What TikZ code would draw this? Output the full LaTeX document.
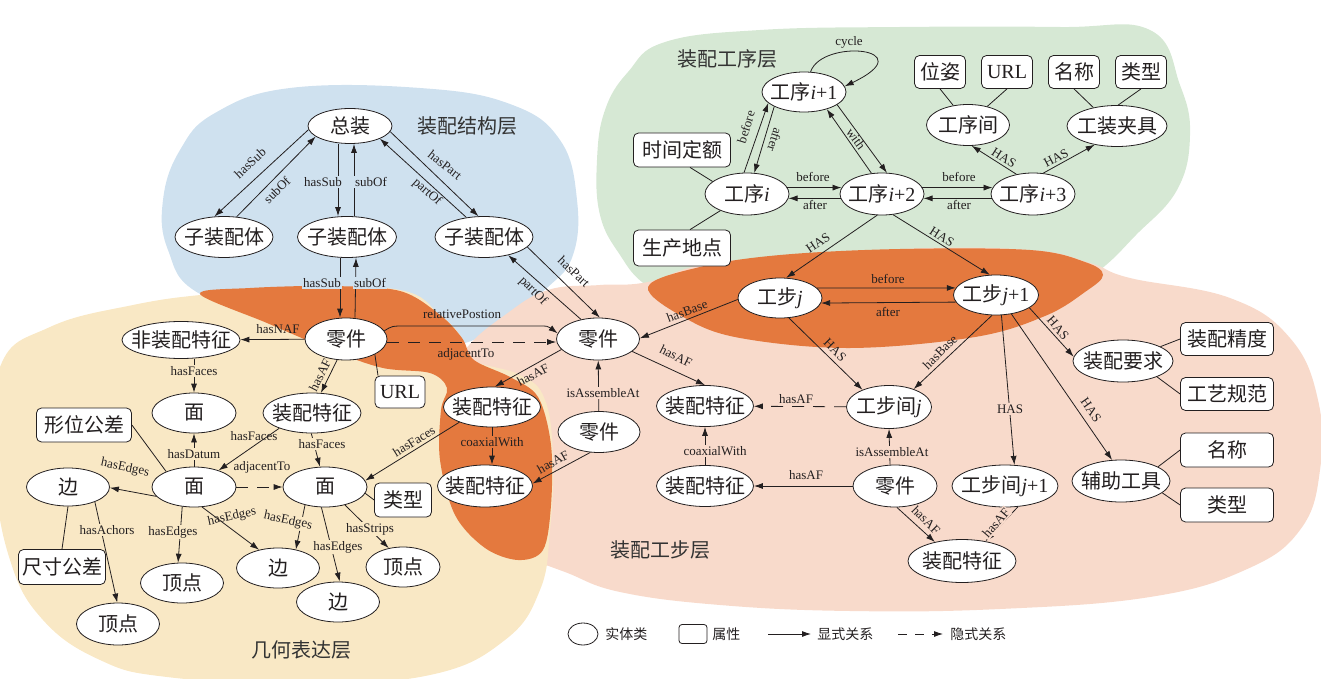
\documentclass[tikz,border=0pt]{standalone}
\usepackage{fontspec}
\setmainfont{Liberation Serif}
\newfontfamily\cjk{Noto Sans CJK SC}
\usetikzlibrary{shapes.geometric,arrows.meta}
\definecolor{bluebg}{RGB}{207,225,239}
\definecolor{greenbg}{RGB}{214,232,212}
\definecolor{peachbg}{RGB}{248,218,203}
\definecolor{yellowbg}{RGB}{249,232,197}
\definecolor{orangebg}{RGB}{228,121,62}
\definecolor{lc}{RGB}{35,31,32}
\newcommand\zc[1]{\makebox[0pt]{#1}}
\newcommand\nf{\cjk\fontsize{20}{24}\selectfont}
\newcommand\lgf{\cjk\fontsize{14}{16}\selectfont}
\newcommand\lf{\fontsize{13}{15}\selectfont}
\newcommand\rmi[1]{{\rmfamily\itshape #1}}
\newcommand\rmn[1]{{\rmfamily #1}}
\tikzset{
 ent/.style={ellipse, draw=lc, fill=white, inner sep=0pt, minimum width=#1, minimum height=41pt, font=\nf, text=lc},
 ent/.default=84pt,
 att/.style={rectangle, rounded corners=5pt, draw=lc, fill=white, inner sep=0pt, minimum width=#1, minimum height=34pt, font=\nf, text=lc},
 att/.default=51pt,
 lb/.style={font=\lf, text=lc, inner sep=1.2pt},
 lbf/.style={lb, fill=#1},
 con/.style={draw=lc, ->},
 dsh/.style={draw=lc, ->, dash pattern=on 12pt off 9pt},
 ln/.style={draw=lc},
 ttl/.style={font=\nf, text=black!80},
 lgt/.style={font=\lgf, text=lc, anchor=west, inner sep=0pt},
}
\begin{document}
\begin{tikzpicture}[x=1pt, y=-1pt, line width=0.8pt, >={Latex[length=9pt,width=6pt]}]
\useasboundingbox (0,0) rectangle (1321,679);
% ---------- layers ----------
\fill[bluebg] plot[smooth cycle, tension=0.7] coordinates {(290,88) (420,88) (510,104) (560,140) (577,200) (573,255) (548,287) (505,318) (465,343) (400,348) (300,325) (200,294) (168,250) (163,200) (180,150) (215,113)};
\fill[greenbg] plot[smooth cycle, tension=0.7] coordinates {(665,42) (760,30) (900,27) (1060,27) (1150,30) (1180,85) (1190,135) (1177,190) (1135,236) (1100,270) (1050,305) (900,325) (700,315) (647,286) (620,255) (600,215) (597,160) (605,110) (628,72)};
\fill[peachbg] plot[smooth cycle, tension=0.7] coordinates {(548,290) (600,285) (648,282) (720,262) (900,249) (1030,250) (1090,263) (1130,278) (1230,298) (1290,338) (1318,400) (1320,470) (1300,530) (1245,570) (1150,597) (1000,609) (850,611) (720,605) (620,592) (565,572) (520,555) (475,535) (450,500) (438,450) (442,395) (465,350) (505,315)};
\fill[yellowbg] plot[smooth cycle, tension=0.7] coordinates {(0,367) (50,327) (133,305) (210,294) (300,288) (400,290) (440,315) (462,338) (472,360) (520,375) (545,400) (553,460) (550,530) (540,590) (505,640) (430,675) (300,684) (167,677) (100,660) (43,620) (10,560) (-5,470)};
\fill[orangebg] plot[smooth cycle, tension=0.55] coordinates {(200,294) (250,288) (330,286) (400,291) (440,315) (462,338) (474,360) (510,377) (538,397) (551,445) (551,505) (543,550) (518,560) (485,548) (455,515) (440,460) (441,410) (447,388) (430,373) (383,368) (333,351) (267,323)};
\fill[orangebg] plot[smooth cycle, tension=0.6] coordinates {(648,287) (700,267) (780,255) (900,249) (1030,250) (1085,262) (1103,275) (1085,292) (1045,316) (975,337) (850,348) (740,338) (685,318)};
% ---------- titles ----------
\node[ttl] (T1) at (467,126) {装配结构层};
\node[ttl] (T2) at (727,59) {装配工序层};
\node[ttl] (T3) at (660,550) {装配工步层};
\node[ttl] (T4) at (301,650) {几何表达层};
% ---------- nodes: structure ----------
\node[ent, minimum height=35pt] (ZZ) at (350,126) {\zc{总装}};
\node[ent=98pt] (S1) at (224,237) {\zc{子装配体}};
\node[ent=99pt] (S2) at (347,237) {\zc{子装配体}};
\node[ent=98pt] (S3) at (484,237) {\zc{子装配体}};
% ---------- nodes: geometry ----------
\node[ent=82pt, minimum height=42pt] (LJ) at (346,339) {\zc{零件}};
\node[att=50pt, minimum height=32pt] (U1) at (400,392) {\zc{\rmn{URL}}};
\node[ent=118pt, minimum height=37pt] (NAF) at (181,340) {\zc{非装配特征}};
\node[ent, minimum height=40pt] (M1) at (194,413) {\zc{面}};
\node[ent=98pt, minimum height=40pt] (AF1) at (312,413) {\zc{装配特征}};
\node[att=95pt] (XW) at (84,425) {\zc{形位公差}};
\node[ent, minimum height=40pt] (M2) at (194,487) {\zc{面}};
\node[ent, minimum height=40pt] (M3) at (325,487) {\zc{面}};
\node[ent=83pt, minimum height=38pt] (B1) at (68,487) {\zc{边}};
\node[att=57pt] (LX1) at (403,500) {\zc{类型}};
\node[att=87pt, minimum height=35pt] (CC) at (62,567) {\zc{尺寸公差}};
\node[ent=83pt, minimum height=40pt] (D1) at (182,583) {\zc{顶点}};
\node[ent=83pt, minimum height=40pt] (B2) at (278,568) {\zc{边}};
\node[ent=83pt, minimum height=40pt] (B3) at (338,602) {\zc{边}};
\node[ent=74pt, minimum height=40pt] (D2) at (403,567) {\zc{顶点}};
\node[ent=83pt, minimum height=42pt] (D3) at (118,624) {\zc{顶点}};
% ---------- nodes: middle ----------
\node[ent=83pt, minimum height=42pt] (ZC) at (598,339) {\zc{零件}};
\node[ent=97pt, minimum height=40pt] (AF2) at (492,407) {\zc{装配特征}};
\node[ent=95pt, minimum height=42pt] (AF3) at (485,486) {\zc{装配特征}};
\node[ent=82pt] (LJ2) at (599,432) {\zc{零件}};
\node[ent=97pt] (AF4) at (705,406) {\zc{装配特征}};
\node[ent=97pt] (AF5) at (705,486) {\zc{装配特征}};
% ---------- nodes: process ----------
\node[ent, minimum height=40pt] (P1) at (804,92) {\zc{工序\rmi{i}\rmn{+1}}};
\node[ent, minimum height=42pt] (P0) at (747,194) {\zc{工序\rmi{i}}};
\node[ent, minimum height=42pt] (P2) at (882,194) {\zc{工序\rmi{i}\rmn{+2}}};
\node[ent, minimum height=42pt] (P3) at (1033,194) {\zc{工序\rmi{i}\rmn{+3}}};
\node[att=97pt] (SJ) at (682,150) {\zc{时间定额}};
\node[att=97pt, minimum height=36pt] (SC) at (682,248) {\zc{生产地点}};
\node[att, minimum height=33pt] (WZ) at (940,72) {\zc{位姿}};
\node[att, minimum height=33pt] (U2) at (1007,72) {\zc{\rmn{URL}}};
\node[att, minimum height=33pt] (MC1) at (1074,72) {\zc{名称}};
\node[att, minimum height=33pt] (LX2) at (1141,72) {\zc{类型}};
\node[ent=83pt] (GXJ) at (968,125) {\zc{工序间}};
\node[ent=100pt] (GZ) at (1117,126) {\zc{工装夹具}};
% ---------- nodes: steps ----------
\node[ent, minimum height=40pt] (BJ) at (780,298) {\zc{工步\rmi{j}}};
\node[ent=85pt, minimum height=40pt] (BJ1) at (996,295) {\zc{工步\rmi{j}\rmn{+1}}};
\node[ent=85pt, minimum height=43pt] (BJJ) at (889,407) {\zc{工步间\rmi{j}}};
\node[ent=84pt, minimum height=42pt] (LJ3) at (895,486) {\zc{零件}};
\node[ent=106pt, minimum height=42pt] (BJJ1) at (1005,486) {\zc{工步间\rmi{j}\rmn{+1}}};
\node[ent=108pt, minimum height=43pt] (AF6) at (962,561) {\zc{装配特征}};
\node[ent=100pt, minimum height=42pt] (YQ) at (1123,361) {\zc{装配要求}};
\node[ent=98pt, minimum height=42pt] (FZ) at (1121,481) {\zc{辅助工具}};
\node[att=93pt, minimum height=33pt] (JD) at (1227,339) {\zc{装配精度}};
\node[att=93pt, minimum height=33pt] (GY) at (1227,394) {\zc{工艺规范}};
\node[att=93pt] (MC2) at (1227,450) {\zc{名称}};
\node[att=93pt] (LX3) at (1227,505) {\zc{类型}};
% ---------- edges: structure ----------
\draw[con] (ZZ.185) -- (S1.115);
\draw[con] (S1.58) -- (ZZ.197);
\node[lb, rotate=43] at (250,163) {hasSub};
\node[lb, rotate=45] at (277,190) {subOf};
\draw[con] ([xshift=-12pt]ZZ.south) -- ([xshift=-9pt]S2.north);
\draw[con] ([xshift=7pt]S2.north) -- ([xshift=4pt]ZZ.south);
\node[lbf=bluebg] at (323,182) {hasSub};
\node[lbf=bluebg] at (371,182) {subOf};
\draw[con] (ZZ.352) -- (S3.105);
\draw[con] (S3.132) -- (ZZ.337);
\node[lb, rotate=-38] at (445,165) {hasPart};
\node[lb, rotate=-42] at (427,192) {partOf};
\draw[con] ([xshift=-7pt]S2.south) -- ([xshift=-6pt]LJ.north);
\draw[con] ([xshift=9pt]LJ.north) -- ([xshift=9pt]S2.south);
\node[lbf=bluebg] at (322,283) {hasSub};
\node[lbf=bluebg] at (370,283) {subOf};
\draw[con] (S3.347) -- (ZC.85);
\draw[con] (ZC.131) -- (S3.323);
\node[lb, rotate=-44] at (574,272) {hasPart};
\node[lb, rotate=-45] at (533,291) {partOf};
% ---------- edges: geometry ----------
\draw[con] (LJ) -- (NAF);
\node[lb] at (278,329) {hasNAF};
\draw[con] (LJ.247) -- (AF1.66);
\node[lb, rotate=63] at (320,375) {hasAF};
\draw[ln] (LJ.332) -- ([xshift=-22pt]U1.north);
\coordinate (rp1) at (405,326);
\coordinate (rp2) at (535,326);
\draw[con] (LJ.12) .. controls (392,326) .. (rp1) -- (rp2) .. controls (548,326) .. (ZC.172);
\node[lb] at (462,314) {relativePostion};
\draw[dsh] ([yshift=-3pt]LJ.east) -- ([yshift=-3pt]ZC.west);
\node[lb] at (466,354) {adjacentTo};
\draw[con] ([xshift=13pt]NAF.south) -- (M1.north);
\node[lbf=yellowbg] at (194,371) {hasFaces};
\draw[con] (AF1.205) -- (M2.34);
\node[lb] at (254,436) {hasFaces};
\draw[con] (AF1.268) -- (M3.104);
\node[lbf=yellowbg] at (322,444) {hasFaces};
\draw[con] (M2) -- (M1);
\node[lbf=yellowbg] at (194,454) {hasDatum};
\draw[dsh] (M2) -- (M3);
\node[lb] at (262,467) {adjacentTo};
\draw[con] (M2.194) -- (B1.359);
\node[lb, rotate=-12] at (125,468) {hasEdges};
\draw[con] (M2.239) -- (D1.101);
\node[lbf=yellowbg] at (173,532) {hasEdges};
\draw[con] (M2.292) -- (B2.136);
\node[lb, rotate=12] at (232,517) {hasEdges};
\draw[con] (M3.222) -- (B2.46);
\node[lbf=yellowbg, rotate=-12] at (288,521) {hasEdges};
\draw[con] (M3.260) -- (B3.85);
\node[lbf=yellowbg] at (338,547) {hasEdges};
\draw[con] (M3.318) -- (D2.127);
\node[lbf=yellowbg] at (370,529) {hasStrips};
\draw[ln] (M3.351) -- (LX1.west);
\draw[ln] (B1.south) -- (CC.north);
\draw[con] (B1.331) -- (D3.92);
\node[lbf=yellowbg] at (107,530) {hasAchors};
\draw[ln] (XW.east) -- (M2.151);
% ---------- edges: middle ----------
\draw[con] (AF2.205) -- (M3.9);
\node[lb, rotate=32] at (414,441) {hasFaces};
\draw[con] (ZC.196) -- (AF2.82);
\node[lb, rotate=28] at (533,375) {hasAF};
\draw[con] (AF2.south) -- ([xshift=7pt]AF3.north);
\node[lbf=orangebg] at (492,442) {coaxialWith};
\draw[con] (LJ2.247) -- (AF3.3);
\node[lb, rotate=29] at (553,462) {hasAF};
\draw[con] (LJ2) -- (ZC);
\node[lbf=peachbg] at (603,393) {isAssembleAt};
\draw[con] (ZC.340) -- (AF4.north);
\node[lb, rotate=-26] at (676,356) {hasAF};
\draw[con] (BJ.182) -- (ZC.1);
\node[lb, rotate=20] at (687,311) {hasBase};
\draw[dsh] (BJJ) -- (AF4);
\node[lb] at (796,399) {hasAF};
\draw[con] (AF5) -- (AF4);
\node[lbf=peachbg] at (715,451) {coaxialWith};
\draw[con] (LJ3) -- (AF5);
\node[lb] at (806,475) {hasAF};
\draw[con] ([xshift=-5pt]LJ3.north) -- (BJJ.south);
\node[lbf=peachbg] at (892,452) {isAssembleAt};
\draw[con] (LJ3.275) -- (AF6.145);
\node[lb, rotate=-45] at (926,520) {hasAF};
\draw[con] (BJJ1.302) -- (AF6.40);
\node[lbf=peachbg, rotate=49] at (996,523) {hasAF};
% ---------- edges: steps ----------
\draw[con] (BJ.15) -- (BJ1.170);
\draw[con] (BJ1.190) -- (BJ.353);
\node[lb] at (888,279) {before};
\node[lb] at (888,312) {after};
\draw[con] (BJ.294) -- (BJJ.147);
\node[lb, rotate=-45] at (835,350) {HAS};
\draw[con] (BJ1.259) -- (BJJ.36);
\node[lb, rotate=45] at (940,352) {hasBase};
\draw[con] (BJ1.285) -- (BJJ1.66);
\node[lbf=peachbg] at (1010,409) {HAS};
\draw[con] (BJ1.309) -- (FZ.113);
\node[lb, rotate=-55] at (1091,410) {HAS};
\draw[con] (BJ1.339) -- (YQ.175);
\node[lb, rotate=-49] at (1058,328) {HAS};
\draw[ln] (YQ.21) -- (JD.west);
\draw[ln] (YQ.335) -- (GY.west);
\draw[ln] (FZ.21) -- (MC2.west);
\draw[ln] (FZ.344) -- (LX3.west);
% ---------- edges: process ----------
\draw[con] (P2.257) -- (BJ.73);
\node[lb, rotate=34] at (818,243) {HAS};
\draw[con] (P2.298) -- (BJ1.107);
\node[lb, rotate=-32] at (942,237) {HAS};
\draw[con] (P0.9) -- (P2.171);
\draw[con] (P2.186) -- (P0.354);
\node[lb] at (813,177) {before};
\node[lb] at (815,205) {after};
\draw[con] (P2.9) -- (P3.171);
\draw[con] (P3.186) -- (P2.354);
\node[lb] at (959,177) {before};
\node[lb] at (959,205) {after};
\draw[con] (P0.98) -- (P1.197);
\draw[con] (P1.206) -- (P0.71);
\node[lb, rotate=73] at (746,127) {before};
\node[lb, rotate=-107] at (775,140) {after};
\draw[con] (P1.339) -- (P2.77);
\draw[con] (P2.117) -- (P1.323);
\node[lb, rotate=-54] at (856,139) {with};
\draw[con] (P1.72) .. controls (822,38) and (925,48) .. (P1.8);
\node[lb] at (849,42) {cycle};
\draw[ln] ([xshift=8pt]SJ.south) -- (P0.160);
\draw[ln] (P0.212) -- ([xshift=8pt]SC.north);
\draw[con] (P3.130) -- (GXJ.280);
\node[lb, rotate=-32] at (1004,158) {HAS};
\draw[con] (P3.64) -- (GZ.220);
\node[lb, rotate=28] at (1056,158) {HAS};
\draw[ln] (GXJ.127) -- (WZ.south);
\draw[ln] (GXJ.44) -- (U2.south);
\draw[ln] (GZ.142) -- (MC1.south);
\draw[ln] (GZ.87) -- (LX2.south);
% ---------- legend ----------
\node[ent=30pt, minimum height=22pt] (LE) at (583,634) {};
\node[lgt] (LT1) at (605,634) {实体类};
\node[att=28pt, minimum height=19pt, rounded corners=3pt] (LA) at (693,634) {};
\node[lgt] (LT2) at (712,634) {属性};
\coordinate (la1) at (768,634);
\coordinate (la2) at (811,634);
\draw[con] (la1) -- (la2);
\node[lgt] (LT3) at (817,634) {显式关系};
\coordinate (lb1) at (898,634);
\coordinate (lb2) at (943,634);
\draw[con, dash pattern=on 9pt off 8pt] (lb1) -- (lb2);
\node[lgt] (LT4) at (950,634) {隐式关系};
\end{tikzpicture}
\end{document}
